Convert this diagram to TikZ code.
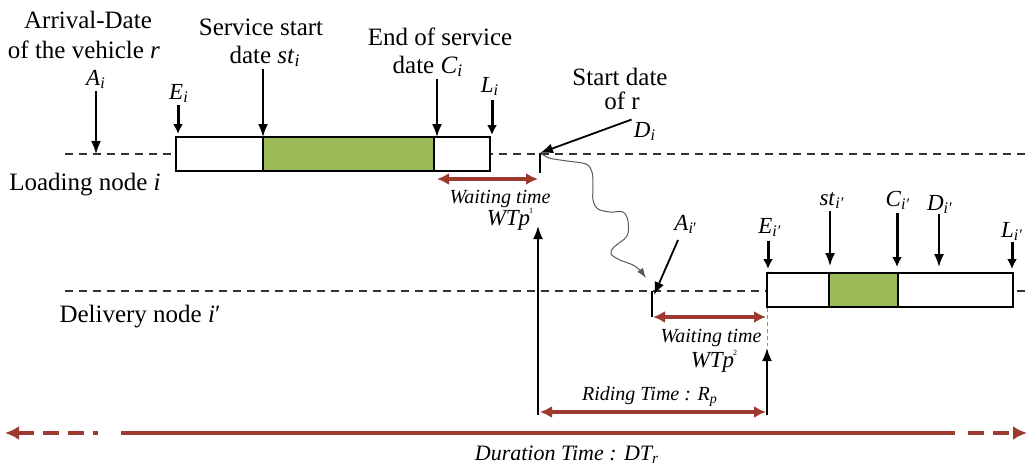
\documentclass[tikz,border=0pt]{standalone}
\usepackage{fontspec}
\setmainfont{Liberation Serif}
\usetikzlibrary{arrows.meta}
\definecolor{brickred}{RGB}{158,57,47}
\definecolor{servgreen}{RGB}{155,187,89}
% italic variable with italic subscript
\newcommand{\tvar}[2]{\textit{#1}\textsubscript{\textit{#2}}}
% waiting time symbol with a tiny index above the p
\newcommand{\wtp}[1]{\textit{WTp}\kern-0.5pt\raisebox{1.1ex}{\fontsize{4}{4}\selectfont #1}}

\begin{document}
\begin{tikzpicture}[x=0.5pt,y=-0.5pt,
  lbl/.style={font=\fontsize{12.5}{14}\selectfont, inner sep=0pt, anchor=base},
  var/.style={font=\fontsize{11.5}{13}\selectfont, inner sep=0pt, anchor=base},
  note/.style={font=\fontsize{10}{12}\selectfont\itshape, inner sep=0pt, anchor=base},
  pointer/.style={line width=0.9pt, -{Latex[length=6.5pt,width=5pt]}},
  heavy/.style={line width=1.5pt, -{Latex[length=5pt,width=5pt]}},
  span/.style={draw=brickred, line width=1.6pt, {Latex[length=6pt,width=6pt]}-{Latex[length=6pt,width=6pt]}},
  guide/.style={dash pattern=on 4pt off 3pt, line width=0.6pt, draw=black!80},
  tickmark/.style={line width=1pt},
  window/.style={draw, line width=1pt, fill=white},
  service/.style={draw, line width=1pt, fill=servgreen},
  wave/.style={draw=black!65, line width=0.5pt, -{Latex[length=5pt,width=3.5pt]}},
  total/.style={draw=brickred, line width=2.4pt},
]
\useasboundingbox (0,0) rectangle (1029,467);

% reference levels
\coordinate (loadline) at (0,154);
\coordinate (loadtop) at (0,137);
\coordinate (delline) at (0,291);
\coordinate (deltop) at (0,273);

% node time lines
\draw[guide] (65,154) -- (1029,154);
\draw[guide] (65,291) -- (1029,291);

% time windows with service periods
\draw[window] (176,137) rectangle (490,171);
\draw[service] (263,137) rectangle (434,171);
\draw[window] (767,273) rectangle (1013,307);
\draw[service] (829,273) rectangle (898,307);

% ---------- loading node ----------
\node[lbl] (arr1) at (88,28) {Arrival-Date};
\node[lbl] (arr2) at (84,58) {of the vehicle \textit{r}};
\node[var] (Ai) at (96,85) {\tvar{A}{i}};
\draw[pointer] ([yshift=-1pt]Ai.south) -- (Ai.south |- loadline);

\node[var] (Ei) at (179,99) {\tvar{E}{i}};
\draw[heavy] ([yshift=-1pt]Ei.south -| 178,0) -- (178,134);

\node[lbl] (serv1) at (261,35) {Service start};
\node[lbl] (serv2) at (265,63) {date \tvar{st}{i}};
\coordinate (sttip) at (263,137);
\draw[pointer] ([yshift=-1pt]serv2.south -| sttip) -- (sttip);

\node[lbl] (end1) at (440,45) {End of service};
\node[lbl] (end2) at (428,73) {date \tvar{C}{i}};
\coordinate (citip) at (437,137);
\draw[pointer] ([yshift=-1pt]end2.south -| citip) -- (citip);

\node[var] (Li) at (490,92) {\tvar{L}{i}};
\coordinate (litip) at (492,135);
\draw[heavy] ([yshift=-2pt]Li.south -| litip) -- (litip);

\node[lbl] (start1) at (620,85) {Start date};
\node[lbl] (start2) at (622,109) {of r};
\node[var] (Di) at (645,137) {\tvar{D}{i}};
\coordinate (dtop) at (540,153);
\coordinate (dbot) at (540,173);
\draw[tickmark] (dtop) -- (dbot);
\draw[pointer] ([shift={(-1pt,1pt)}]Di.north west) -- (dtop);

\node[lbl] (loadlbl) at (85,190) {Loading node \textit{i}};

% first waiting time
\coordinate (w1l) at (437,179);
\coordinate (w1r) at (538,179);
\draw[span] (w1l) -- (w1r);
\node[note] (wait1) at (500,203) {Waiting time};
\node[var] (wt1) at (510,225) {\wtp{1}};

% travel from i to i'
\coordinate (aitip) at (646,278);
\draw[wave] plot[smooth, tension=0.55] coordinates {
  (541,153) (549,158) (567,161) (586,164) (592,172) (593,185) (593,200)
  (598,209) (610,212) (623,212) (628,221) (627,236) (614,247) (611,254)
  (620,260) (633,265) (641,271) } -- (aitip);

% ---------- delivery node ----------
\node[lbl] (delivlbl) at (140,322) {Delivery node \textit{i}′};

\node[var] (Aip) at (686,230) {\textit{A}\textsubscript{\textit{i}′}};
\coordinate (aptop) at (652,291);
\coordinate (apbot) at (652,317);
\draw[tickmark] (aptop) -- (apbot);
\draw[pointer] ([shift={(2pt,-3pt)}]Aip.south west) -- ([shift={(1pt,-2pt)}]aptop);

\node[var] (Eip) at (770,233) {\tvar{E}{i′}};
\draw[heavy] (768,241) -- (768,269);
\node[var] (stip) at (832,205) {\tvar{st}{i′}};
\draw[pointer] (830,211) -- (830,266);
\node[var] (Cip) at (898,206) {\tvar{C}{i′}};
\draw[heavy] (897,213) -- (897,267);
\node[var] (Dip) at (940,210) {\tvar{D}{i′}};
\draw[pointer] (939,214) -- (939,267);
\node[var] (Lip) at (1012,237) {\tvar{L}{i′}};
\draw[heavy] (1012,242) -- (1012,269);

% second waiting time
\coordinate (w2l) at (653,317);
\coordinate (w2r) at (766,317);
\draw[span] (w2l) -- (w2r);
\node[note] (wait2) at (711,342) {Waiting time};
\node[var] (wt2) at (714,367) {\wtp{2}};
\draw[draw=black!45, line width=0.5pt, dash pattern=on 2pt off 1.5pt] (767,308) -- (767,346);

% riding time
\coordinate (rl) at (538,415);
\coordinate (rr) at (767,415);
\draw[pointer] (rl) -- (538,226);
\draw[pointer] (rr) -- (767,348);
\draw[span] (540,412) -- (766,412);
\node[note] (riding) at (650,400) {Riding Time : \textit{R}\textsubscript{\textit{p}}};

% duration time
\draw[total] (121,433) -- (955,433);
\draw[total, dash pattern=on 8pt off 4.5pt, {Latex[length=7pt,width=7pt]}-] (5,433) -- (98,433);
\draw[total, dash pattern=on 8pt off 4.5pt, -{Latex[length=7pt,width=7pt]}] (968,433) -- (1027,433);
\node[note, font=\fontsize{11}{13}\selectfont\itshape] (duration) at (567,460) {Duration Time : \textit{DT}\textsubscript{\textit{r}}};
\end{tikzpicture}
\end{document}
